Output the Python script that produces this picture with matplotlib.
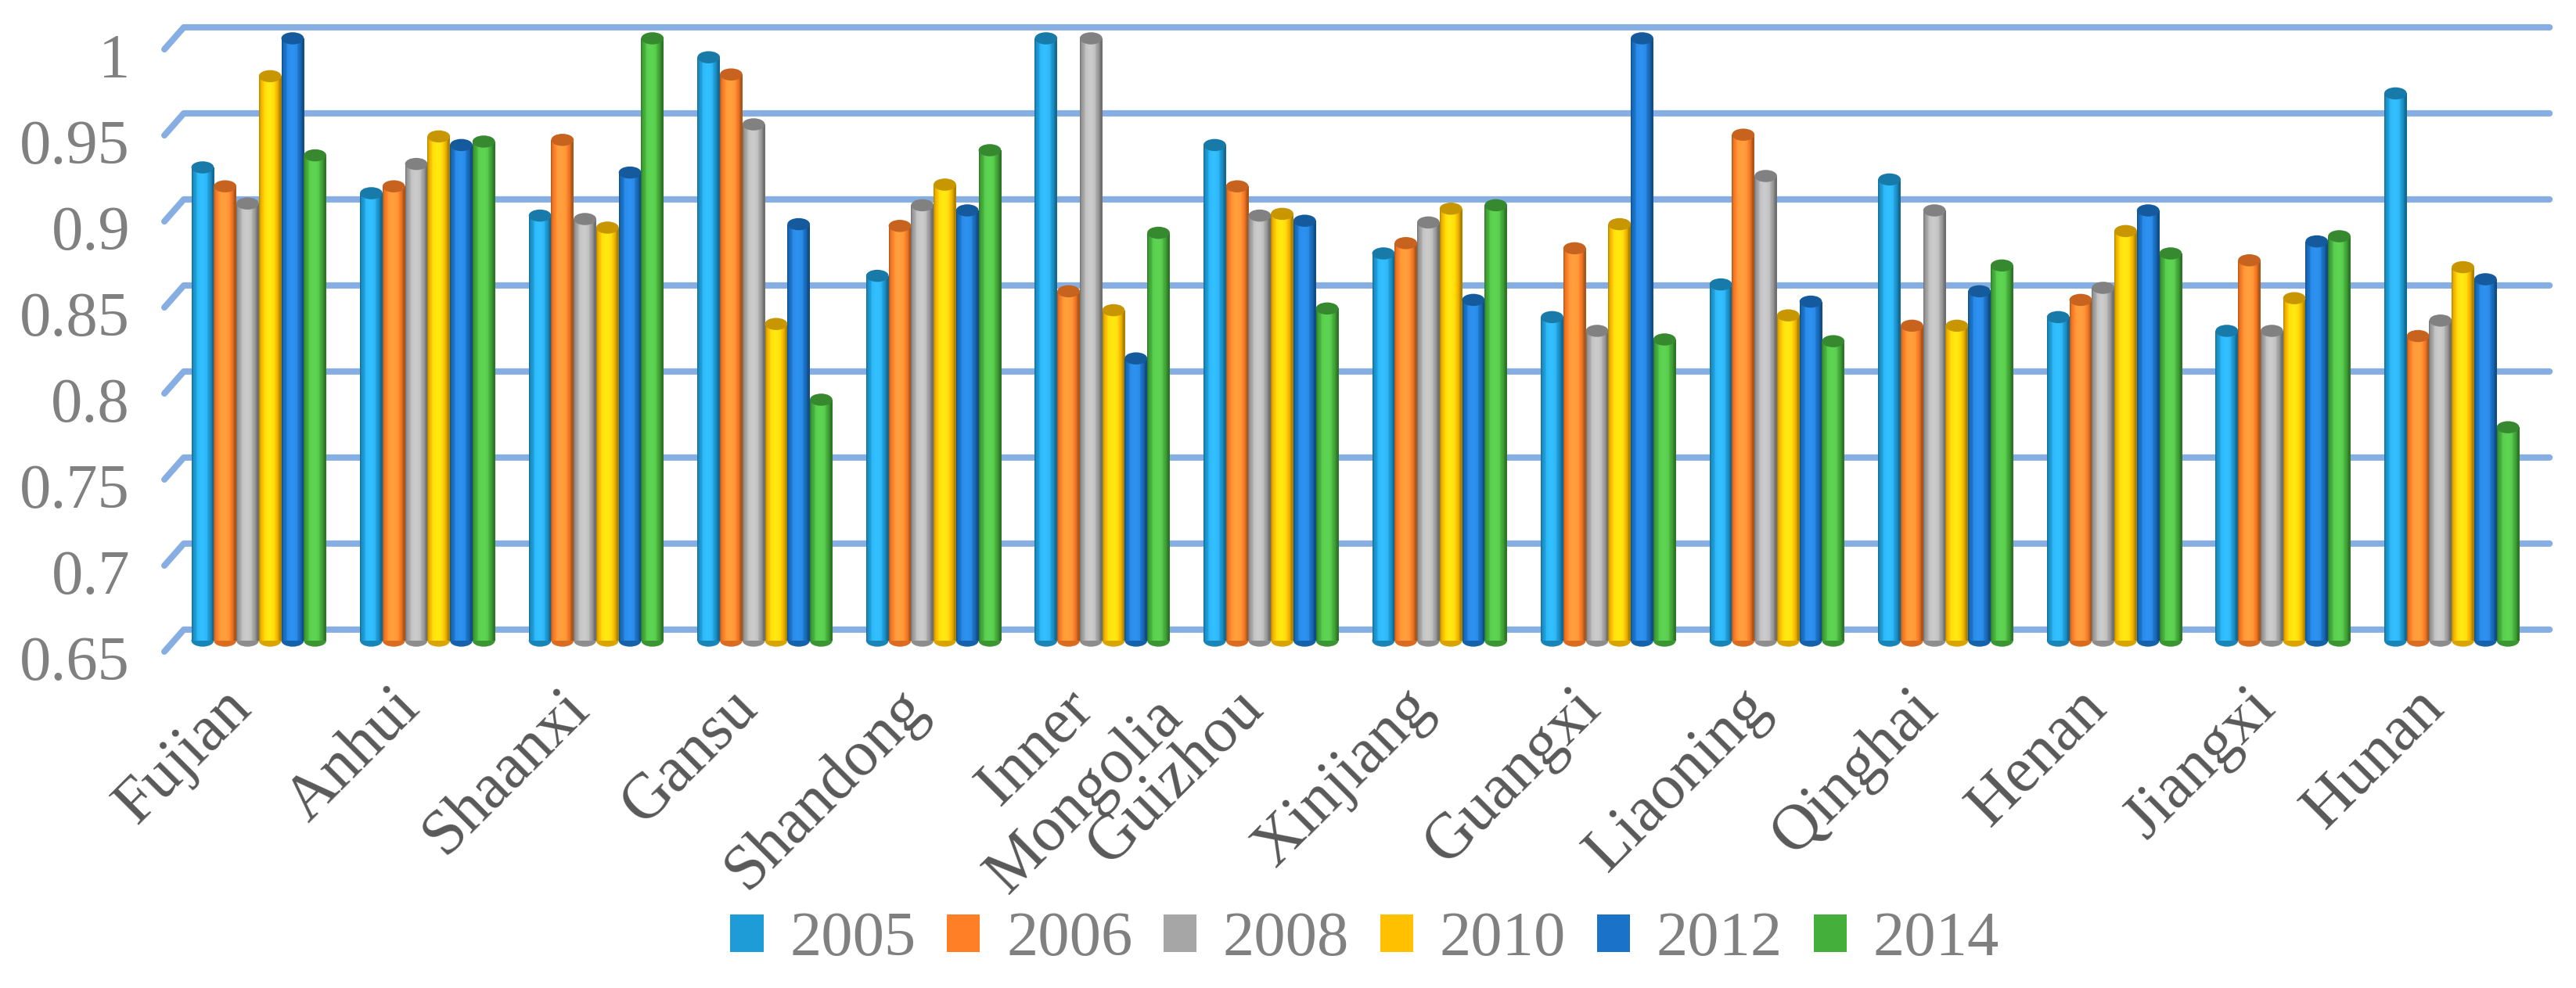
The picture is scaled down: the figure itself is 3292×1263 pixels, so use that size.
import numpy as np
import matplotlib
matplotlib.use("Agg")
import matplotlib.pyplot as plt
from matplotlib.patches import Ellipse
from matplotlib.transforms import ScaledTranslation
from matplotlib.colors import to_rgb

provinces = ["Fujian", "Anhui", "Shaanxi", "Gansu", "Shandong", "Inner\nMongolia",
             "Guizhou", "Xinjiang", "Guangxi", "Liaoning", "Qinghai", "Henan",
             "Jiangxi", "Hunan"]
years = ["2005", "2006", "2008", "2010", "2012", "2014"]

v2005 = [0.925, 0.910, 0.897, 0.989, 0.862, 1.000, 0.938, 0.875, 0.838, 0.857, 0.918, 0.838, 0.830, 0.968]
v2006 = [0.914, 0.914, 0.941, 0.979, 0.891, 0.853, 0.914, 0.881, 0.878, 0.944, 0.833, 0.848, 0.871, 0.827]
v2008 = [0.904, 0.927, 0.895, 0.950, 0.903, 1.000, 0.897, 0.893, 0.830, 0.920, 0.900, 0.855, 0.830, 0.836]
v2010 = [0.978, 0.943, 0.890, 0.834, 0.915, 0.842, 0.898, 0.901, 0.892, 0.839, 0.833, 0.888, 0.849, 0.867]
v2012 = [1.000, 0.938, 0.922, 0.892, 0.900, 0.814, 0.894, 0.848, 1.000, 0.847, 0.853, 0.900, 0.882, 0.860]
v2014 = [0.932, 0.940, 1.000, 0.790, 0.935, 0.887, 0.843, 0.903, 0.825, 0.824, 0.868, 0.875, 0.885, 0.774]
series = [v2005, v2006, v2008, v2010, v2012, v2014]

yticks = [0.65, 0.7, 0.75, 0.8, 0.85, 0.9, 0.95, 1.0]
ytick_labels = ["0.65", "0.7", "0.75", "0.8", "0.85", "0.9", "0.95", "1"]

colors = ["#1E9CD7", "#FF7F27", "#A6A6A6", "#FFC000", "#1A73C8", "#45AF3B"]
grid_color = "#86AEE3"
base = 0.65
depth = 0.0064   # half depth of the 3D box in data units

plt.rcParams['font.family'] = ['Liberation Serif', 'DejaVu Serif']

fig = plt.figure(figsize=(32.92, 12.63), dpi=100)
ax = fig.add_axes([223 / 3292, (1263 - 833) / 1263, 3018 / 3292, 828 / 1263])

x = np.arange(len(provinces))
w = 0.8 / len(years)
u = np.linspace(0, 1, 40)
shade = 0.68 + 0.45 * np.sin(np.pi * np.clip(u * 1.1, 0, 1)) ** 0.5

containers = []
for j, (vals, c) in enumerate(zip(series, colors)):
    vals = np.array(vals)
    bars = ax.bar(x + (j - 2.5) * w, vals - base, width=w, bottom=base, color=c,
                  zorder=3, label=years[j], linewidth=0)
    containers.append(bars)
    rgb = np.array(to_rgb(c))
    grad = np.clip(rgb[None, :] * shade[:, None] + 0.06 * (shade[:, None] > 1.05), 0, 1)
    grad = grad[None, :, :]
    cap = np.clip(rgb * 0.78, 0, 1)
    for b in bars:
        x0, y0, bw, bh = b.get_x(), b.get_y(), b.get_width(), b.get_height()
        im = ax.imshow(grad, extent=[x0, x0 + bw, y0, y0 + bh], aspect='auto',
                       zorder=3, interpolation='bilinear')
        im.set_clip_path(b)
        ax.add_patch(Ellipse((x0 + bw / 2, y0), bw, 2 * depth * 0.55,
                             facecolor=rgb * 0.85, edgecolor='none', zorder=2.9))
        ax.add_patch(Ellipse((x0 + bw / 2, y0 + bh), bw, 2 * depth * 0.55,
                             facecolor=cap, edgecolor='none', zorder=4))

# back wall gridlines with the slanted floor edge on the left
xl0, xl1, xr = -0.56, -0.445, 13.58
for t in yticks:
    ax.plot([xl0, xl1, xr], [t - depth, t + depth, t + depth], color=grid_color,
            lw=5.8, solid_capstyle='round', zorder=1, clip_on=False)

ax.set_xlim(-0.5, 13.5)
ax.set_ylim(0.6436, 1.02)
for s in ax.spines.values():
    s.set_visible(False)

ax.set_yticks(yticks)
ax.set_yticklabels(ytick_labels, fontsize=58, color='#808080')
ax.tick_params(axis='y', length=0, pad=41)
for lbl in ax.get_yticklabels():
    lbl.set_transform(lbl.get_transform() + ScaledTranslation(0, -0.22, fig.dpi_scale_trans))

ax.set_xticks(x)
ax.set_xticklabels(provinces, fontsize=59, color='#595959', rotation=45,
                   ha='right', va='top', rotation_mode='anchor')
ax.tick_params(axis='x', length=0, pad=24)
for lbl in ax.get_xticklabels():
    dx, dy = -0.48, 0
    if "\n" in lbl.get_text():
        # two-line label is centred line by line, as in the original
        lbl.set_multialignment('center')
        lbl.set_linespacing(1.2)
        dx, dy = 0.02, 0.5
    lbl.set_transform(lbl.get_transform() + ScaledTranslation(dx, dy, fig.dpi_scale_trans))

leg = fig.legend(handles=containers, labels=years, loc='center',
                 bbox_to_anchor=(0.5298, 0.0483), ncol=6, frameon=False,
                 fontsize=58, handlelength=0.525, handleheight=0.525,
                 handletextpad=0.42, columnspacing=0.49, borderpad=0)
for txt in leg.get_texts():
    txt.set_color('#808080')

fig.savefig("out.png", dpi=100)
